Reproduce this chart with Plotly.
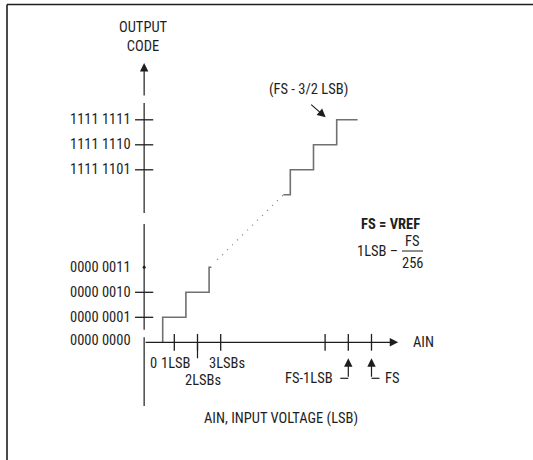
import plotly.graph_objects as go

# ---------------- data (LSB on x, output code on y) ----------------
FS = 256
LOWER_STEP_EDGES = [0.5, 1.5, 2.5]          # input (LSB) where code increments
LOWER_CODES = [1, 2, 3]
LOWER_END = 2.6
UPPER_START = 252.2
UPPER_START_CODE = 252
UPPER_STEP_EDGES = [252.5, 253.5, 254.5]
UPPER_CODES = [253, 254, 255]
UPPER_END = 255.4

Y_TICK_CODES = [0, 1, 2, 3, 253, 254, 255]
Y_TICK_LABELS = ["0000 0000", "0000 0001", "0000 0010", "0000 0011",
                 "1111 1101", "1111 1110", "1111 1111"]
Y_TICK_MARKED = [1, 2, 253, 254, 255]
Y_TICK_DOT = [3]
X_TICK_LSB = [1, 2, 3, 254, 255, 256]

# ---------------- broken-axis layout ----------------
X_GAP = 246.5      # LSBs removed from the x axis break
Y_GAP = 246.1      # codes removed from the y axis break
Y_AXIS_AT = -0.3   # the y axis crosses x at this LSB value
PXX, PXY = 23.2, 25.0   # pixels per display unit

def bx(v):
    return v if v < FS / 2 else v - X_GAP

def by(c):
    return c if c < 128 else c - Y_GAP

W, H = 533, 460
X_RANGE = [-151.1 / PXX, (W - 151.1) / PXX]
Y_RANGE = [(342.3 - H) / PXY, 342.3 / PXY]

INK = "#1e1e1e"
STEP = "#707070"
FONT = "Liberation Sans Narrow, Arial Narrow, Roboto Condensed, DejaVu Sans Condensed, sans-serif"

fig = go.Figure()

# lower staircase
lx = [LOWER_STEP_EDGES[0]] + LOWER_STEP_EDGES + [LOWER_END]
ly = [0] + LOWER_CODES + [LOWER_CODES[-1]]
fig.add_trace(go.Scatter(x=[bx(v) for v in lx], y=[by(c) for c in ly], mode="lines",
                         line=dict(shape="hv", color=STEP, width=1.6), hoverinfo="skip"))
# upper staircase
ux = [UPPER_START] + UPPER_STEP_EDGES + [UPPER_END]
uy = [UPPER_START_CODE] + UPPER_CODES + [UPPER_CODES[-1]]
fig.add_trace(go.Scatter(x=[bx(v) for v in ux], y=[by(c) for c in uy], mode="lines",
                         line=dict(shape="hv", color=STEP, width=1.6), hoverinfo="skip"))
# dotted continuation
fig.add_trace(go.Scatter(x=[bx(LOWER_END) + 0.25, bx(UPPER_START)],
                         y=[by(LOWER_CODES[-1]) + 0.3, by(UPPER_START_CODE)],
                         mode="lines", line=dict(color="#8a8a8a", width=1.4, dash="1px,6px"),
                         hoverinfo="skip"))

# y axis (with breaks)
Y_AXIS_SEGMENTS = [(-2.55, 0.2), (0.5, 4.73), (251.27, 255.67)]
yax_x, yax_y = [], []
for a, b in Y_AXIS_SEGMENTS:
    yax_x += [Y_AXIS_AT, Y_AXIS_AT, None]
    yax_y += [by(a), by(b), None]
fig.add_trace(go.Scatter(x=yax_x, y=yax_y, mode="lines", line=dict(color=INK, width=1.2),
                         hoverinfo="skip"))

# y ticks
fig.add_trace(go.Scatter(x=[Y_AXIS_AT] * len(Y_TICK_MARKED), y=[by(c) for c in Y_TICK_MARKED],
                         mode="markers", marker=dict(symbol="line-ew", size=13,
                                                     line=dict(width=1.3, color=INK)),
                         hoverinfo="skip"))
fig.add_trace(go.Scatter(x=[Y_AXIS_AT] * len(Y_TICK_DOT), y=[by(c) for c in Y_TICK_DOT],
                         mode="markers", marker=dict(symbol="circle", size=3, color=INK),
                         hoverinfo="skip"))
# x ticks
fig.add_trace(go.Scatter(x=[bx(v) for v in X_TICK_LSB], y=[0] * len(X_TICK_LSB),
                         mode="markers", marker=dict(symbol="line-ns", size=12,
                                                     line=dict(width=1.3, color=INK)),
                         hoverinfo="skip"))
# leader under 2LSBs
fig.add_trace(go.Scatter(x=[bx(2), bx(2)], y=[0, -16 / PXY], mode="lines",
                         line=dict(color=INK, width=1.2), hoverinfo="skip"))
# elbows of FS-1LSB and FS pointers
el = -36 / PXY
fig.add_trace(go.Scatter(x=[bx(FS - 1) - 8 / PXX, bx(FS - 1), None, bx(FS), bx(FS) + 8 / PXX],
                         y=[el, el, None, el, el], mode="lines",
                         line=dict(color=INK, width=1.2), hoverinfo="skip"))

ann = []
# axis arrows
ann.append(dict(x=bx(FS) + 1.15, y=0, ax=Y_AXIS_AT, ay=0, xref="x", yref="y", axref="x", ayref="y",
                text="", showarrow=True, arrowhead=2, arrowsize=1.4, arrowwidth=1.2, arrowcolor=INK))
ann.append(dict(x=Y_AXIS_AT, y=by(257.27), ax=Y_AXIS_AT, ay=by(255.91), xref="x", yref="y",
                axref="x", ayref="y", text="", showarrow=True, arrowhead=2, arrowsize=1.4,
                arrowwidth=1.2, arrowcolor=INK))
# pointer arrows for FS-1LSB and FS
for v in (FS - 1, FS):
    ann.append(dict(x=bx(v), y=0, yshift=-16, ax=0, ay=20, xref="x", yref="y", text="",
                    showarrow=True, arrowhead=2, arrowsize=1.4, arrowwidth=1.2, arrowcolor=INK))
# arrow to (FS - 3/2 LSB)
ann.append(dict(x=bx(FS - 1.5), y=by(255), xshift=-11, yshift=2.5, ax=-16, ay=-14,
                xref="x", yref="y", text="", showarrow=True, arrowhead=2, arrowsize=1.4,
                arrowwidth=1.2, arrowcolor=INK))

f = dict(family=FONT, size=14.5, color=INK)
# y tick labels
for c, t in zip(Y_TICK_CODES, Y_TICK_LABELS):
    ann.append(dict(x=Y_AXIS_AT, y=by(c), xshift=-11, yshift=2 if c == 0 else 0, text=t,
                    xref="x", yref="y", xanchor="right", yanchor="middle", showarrow=False, font=f))
# x tick labels
X_LABELS = [(0, "0", 2, -21), (1, "1LSB", 2, -21), (3, "3LSBs", 6, -21), (2, "2LSBs", 5, -38)]
for v, t, dx, dy in X_LABELS:
    ann.append(dict(x=bx(v), y=0, xshift=dx, yshift=dy, text=t, xref="x", yref="y",
                    xanchor="center", yanchor="middle", showarrow=False, font=f))
ann.append(dict(x=bx(FS - 1), y=0, xshift=-13, yshift=-36, text="FS-1LSB", xref="x", yref="y",
                xanchor="right", yanchor="middle", showarrow=False, font=f))
ann.append(dict(x=bx(FS), y=0, xshift=11, yshift=-36, text="FS", xref="x", yref="y",
                xanchor="left", yanchor="middle", showarrow=False, font=f))
ann.append(dict(x=bx(FS) + 1.15, y=0, xshift=13, text="AIN", xref="x", yref="y",
                xanchor="left", yanchor="middle", showarrow=False, font=f))

def P(px, py):
    return px / W, 1 - py / H

for (px, py), t, extra in [((143.5, 37), "OUTPUT<br>CODE", {}),
                            ((308.5, 89), "(FS - 3/2 LSB)", {}),
                            ((390, 225), "<b>FS = VREF</b>", {}),
                            ((377, 252), "1LSB –", {}),
                            ((412.5, 241), "FS", {}),
                            ((412.5, 263), "256", {}),
                            ((281, 418), "AIN, INPUT VOLTAGE (LSB)", {})]:
    x, y = P(px, py)
    ann.append(dict(x=x, y=y, xref="paper", yref="paper", text=t, showarrow=False,
                    xanchor="center", yanchor="middle", font=f, **extra))

shapes = []
x0, y0 = P(402, 251)
x1, _ = P(423, 251)
shapes.append(dict(type="line", xref="paper", yref="paper", x0=x0, x1=x1, y0=y0, y1=y0,
                   line=dict(color=INK, width=1)))
# frame
bxl, byt = P(7, 4.5)
shapes.append(dict(type="line", xref="paper", yref="paper", x0=bxl, x1=bxl, y0=0, y1=byt,
                   line=dict(color=INK, width=1.6)))
shapes.append(dict(type="line", xref="paper", yref="paper", x0=bxl, x1=1, y0=byt, y1=byt,
                   line=dict(color=INK, width=1.6)))

fig.update_layout(width=W, height=H, margin=dict(l=0, r=0, t=0, b=0, pad=0),
                  paper_bgcolor="white", plot_bgcolor="white", showlegend=False,
                  xaxis=dict(range=X_RANGE, visible=False, fixedrange=True),
                  yaxis=dict(range=Y_RANGE, visible=False, fixedrange=True),
                  annotations=ann, shapes=shapes)

fig.write_html("out.html", config={"displayModeBar": False},
               post_script="document.body.style.margin='0';")
